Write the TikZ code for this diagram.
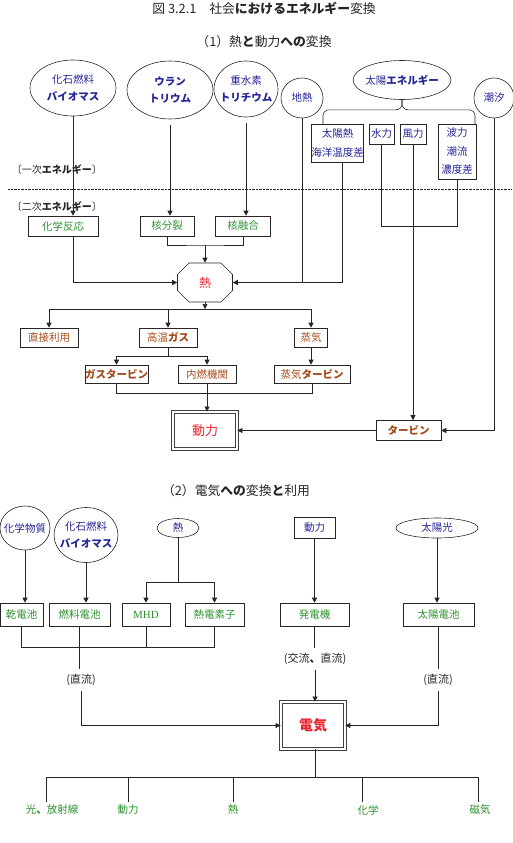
\documentclass[tikz,border=0pt]{standalone}
\usepackage{fontspec}
\setmainfont{Noto Sans CJK JP}
\newfontfamily\serifen{Liberation Serif}
\usetikzlibrary{shapes.geometric,shapes.misc,arrows.meta}

\definecolor{navyblue}{RGB}{38,38,150}
\definecolor{leafgreen}{RGB}{45,145,45}
\definecolor{rustbrown}{RGB}{165,75,25}
\definecolor{hotred}{RGB}{235,35,45}

\begin{document}
\begin{tikzpicture}[x=1pt,y=-1pt,>={Triangle[length=5pt,width=5pt]},line width=0.6pt,color=black!85,
  every node/.style={font=\fontsize{10.5}{17}\selectfont,inner sep=0pt,align=center},
  src/.style={ellipse,draw,text=navyblue},
  pri/.style={draw,rectangle,text=navyblue,font=\fontsize{10.5}{18.5}\selectfont},
  sec/.style={draw,rectangle,text=leafgreen},
  use/.style={draw,rectangle,text=rustbrown},
  goal/.style={draw=black!75,double,double distance=1.6pt,line width=0.8pt,text=hotred},
  tag/.style={font=\fontsize{10}{12}\selectfont},
  head/.style={font=\fontsize{12.8}{15}\selectfont},
  cur/.style={inner ysep=5pt,font=\fontsize{11}{13}\selectfont},
  usage/.style={text=leafgreen,inner ysep=3pt}]
\useasboundingbox (0,0) rectangle (512,843);

\node[head] (title) at (264,8) {図 3.2.1　社会{\bfseries におけるエネルギー}変換};
\node[head] (sub1) at (264,42) {（1）熱{\bfseries と}動力{\bfseries への}変換};

% (1)
\node[src,minimum width=86,minimum height=56] (fossil) at (73,88) {化石燃料\\{\bfseries バイオマス}};
\node[src,minimum width=86,minimum height=58] (uran) at (170,90) {{\bfseries ウラン}\\{\bfseries トリウム}};
\node[src,minimum width=64,minimum height=56,inner xsep=-5pt] (hydro) at (246,89) {重水素\\{\bfseries トリチウム}};
\node[src,minimum width=42,minimum height=40] (geo) at (302,98) {地熱};
\node[src,minimum width=98,minimum height=39,inner xsep=-3pt] (solar) at (402,80) {太陽{\bfseries エネルギー}};
\node[src,minimum width=40,minimum height=40] (tide) at (494,98) {潮汐};

\node[pri,minimum width=51,minimum height=38] (sheat) at (337.5,143) {太陽熱\\海洋温度差};
\node[pri,minimum width=25,minimum height=20] (hydrop) at (381.5,134) {水力};
\node[pri,minimum width=26,minimum height=20] (wind) at (413,134) {風力};
\node[pri,minimum width=38,minimum height=55] (wave) at (457,151.5) {波力\\潮流\\濃度差};

\draw[rounded corners=6pt] (323,124) |- ([yshift=-10pt]solar.south) -- (solar.south);
\draw[rounded corners=6pt] (475,124) |- ([yshift=-10pt]solar.south) -- (solar.south);

\node[tag] (prim) at (57,170) {〔一次{\bfseries エネルギー}〕};
\draw[densely dotted,line width=0.4pt] (8,189) -- (512,189);
\node[tag] (secd) at (57,207) {〔二次{\bfseries エネルギー}〕};

\node[sec,minimum width=70,minimum height=20] (chem) at (63,226) {化学反応};
\node[sec,minimum width=54,minimum height=20] (fission) at (167,226) {核分裂};
\node[sec,minimum width=55,minimum height=20] (fusion) at (243,226) {核融合};

\node[draw,chamfered rectangle,chamfered rectangle xsep=11pt,chamfered rectangle ysep=10pt,
  minimum width=55,minimum height=39,text=hotred,font=\fontsize{12}{14}\selectfont] (heat) at (205,282.5) {熱};

\draw[->] (fossil.south) -- (fossil.south |- chem.north);
\draw[->] (fossil.south |- chem.south) |- (heat.west);
\draw[->] ([yshift=-6pt]uran.south) -- (uran.south |- fission.north);
\draw[->] ([yshift=-6pt]hydro.south) -- (hydro.south |- fusion.north);
\coordinate (jnuc) at (205,245);
\draw (fission.south) |- (jnuc) -| (fusion.south);
\draw[->] (jnuc) -- (heat.north);
\draw[->] ([xshift=5pt]sheat.south) |- (heat.east);
\draw (geo.south) -- (geo.south |- heat.east);

\node[use,minimum width=58,minimum height=19] (direct) at (49,337.5) {直接利用};
\node[use,minimum width=58,minimum height=19] (hgas) at (168,337.5) {高温{\bfseries ガス}};
\node[use,minimum width=33,minimum height=19] (steam) at (311,337.5) {蒸気};
\node[use,minimum width=63,minimum height=18] (gturb) at (116.5,374) {\bfseries ガスタービン};
\node[use,minimum width=58,minimum height=18] (ice) at (207,374) {内燃機関};
\node[use,minimum width=76,minimum height=18] (sturb) at (312,374) {蒸気{\bfseries タービン}};
\node[goal,minimum width=64,minimum height=37,font=\fontsize{13}{15}\selectfont] (power) at (205,430.5) {動力};
\node[use,minimum width=65,minimum height=20] (turb) at (408.5,430.5) {\bfseries タービン};

\coordinate (hbus) at (205,309);
\draw[->] (heat.south) -- (hbus);
\draw[->] (hbus) -| (direct.north);
\draw[->] (hbus) -| (steam.north);
\draw[->] (hbus -| hgas.north) -- (hgas.north);
\draw (hgas.south) -- ++(0,9) coordinate (gbus);
\draw[->] (gbus) -| (gturb.north);
\draw[->] (gbus) -| (ice.north);
\draw[->] (steam.south) -- (steam.south |- sturb.north);
\draw (gturb.south) -- ++(0,10) -| (sturb.south);
\draw[->] (ice.south) -- (ice.south |- power.north);

\draw (hydrop.south) -- ++(0,82) -| (wave.south);
\draw[->] (wind.south) -- (wind.south |- turb.north);
\draw[->] (tide.south) |- (turb.east);
\draw[->] (turb.west) -- (power.east);

% (2)
\node[head] (sub2) at (236,491) {（2）電気{\bfseries への}変換{\bfseries と}利用};

\node[src,minimum width=50,minimum height=44,inner xsep=-4pt] (chemsub) at (25,528) {化学物質};
\node[src,minimum width=64,minimum height=55,inner xsep=-5pt] (fossil2) at (86,535) {化石燃料\\{\bfseries バイオマス}};
\node[src,minimum width=42,minimum height=19] (heat2) at (178,528) {熱};
\node[pri,minimum width=41,minimum height=21] (power2) at (314.5,527.5) {動力};
\node[src,minimum width=82,minimum height=20] (sun) at (437,528) {太陽光};

\node[sec,minimum width=43,minimum height=23] (dry) at (21.5,614.5) {乾電池};
\node[sec,minimum width=61,minimum height=23] (fuelc) at (79.5,614.5) {燃料電池};
\node[sec,minimum width=48,minimum height=23,font=\serifen\fontsize{11}{13}\selectfont] (mhd) at (146,614.5) {MHD};
\node[sec,minimum width=59,minimum height=23] (tele) at (214.5,614.5) {熱電素子};
\node[sec,minimum width=69,minimum height=23] (gen) at (314.5,614.5) {発電機};
\node[sec,minimum width=71,minimum height=23] (cell) at (438.5,614.5) {太陽電池};

\draw[->] (chemsub.south) -- (chemsub.south |- dry.north);
\draw[->] (fossil2.south) -- (fossil2.south |- fuelc.north);
\coordinate (hb2) at (178,582);
\draw (heat2.south) -- (hb2);
\draw[->] (hb2) -| (mhd.north);
\draw[->] (hb2) -| (tele.north);
\draw[->] (power2.south) -- (gen.north);
\draw[->] (sun.south) -- (sun.south |- cell.north);

\node[goal,minimum width=64,minimum height=47,font=\bfseries\fontsize{14}{16}\selectfont] (elec) at (313,725.5) {電気};

\node[cur] (dc1) at (81,680) {(直流)};
\node[cur] (ac) at (315,659) {(交流{\bfseries 、}直流)};
\node[cur] (dc2) at (438,680) {(直流)};

\draw (dry.south) -- ++(0,21) -| (tele.south);
\draw (mhd.south) -- ++(0,21);
\draw (fuelc.south) -- (fuelc.south |- dc1.north);
\draw[->] (dc1.south) |- (elec.west);
\draw (gen.south) -- (gen.south |- ac.north);
\draw[->] (ac.south) -- (ac.south |- elec.north);
\draw (cell.south) -- (cell.south |- dc2.north);
\draw[->] (dc2.south) |- (elec.east);

\node[usage] (light) at (52,810) {光{\bfseries 、}放射線};
\node[usage] (pw) at (128,810) {動力};
\node[usage] (ht) at (233,810) {熱};
\node[usage] (ch) at (368,810) {化学};
\node[usage] (mag) at (480,810) {磁気};

\coordinate (ebus) at (315,777);
\draw (elec.south -| ebus) -- (ebus);
\draw (ebus) -| ([xshift=-6pt]light.north);
\draw (ebus) -| ([xshift=-2pt]mag.north);
\draw (pw.north) -- (pw.north |- ebus);
\draw (ht.north) -- (ht.north |- ebus);
\draw ([xshift=-6pt]ch.north) -- ([xshift=-6pt]ch.north |- ebus);
\end{tikzpicture}
\end{document}
